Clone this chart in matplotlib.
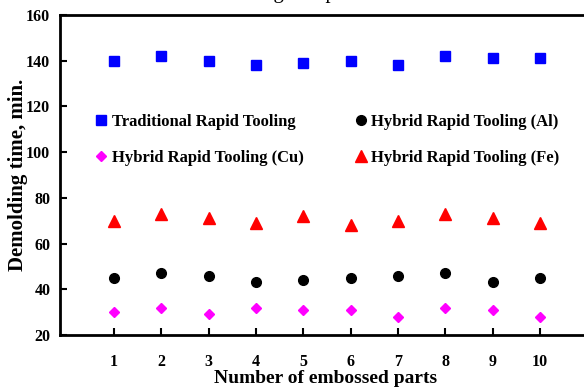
"""Demolding time per embossed part for four rapid tooling variants."""

import matplotlib
matplotlib.use("Agg")
import matplotlib.pyplot as plt

parts = [1, 2, 3, 4, 5, 6, 7, 8, 9, 10]
traditional = [140, 142, 140, 138, 139, 140, 138, 142, 141, 141]
hybrid_al = [45, 47, 46, 43, 44, 45, 46, 47, 43, 45]
hybrid_cu = [30, 32, 29, 32, 31, 31, 28, 32, 31, 28]
hybrid_fe = [70, 73, 71, 69, 72, 68, 70, 73, 71, 69]

y_ticks = [20, 40, 60, 80, 100, 120, 140, 160]

plt.rcParams["font.family"] = ["Liberation Serif", "DejaVu Serif"]
plt.rcParams["font.weight"] = "bold"


def main() -> None:
    fig = plt.figure(figsize=(5.84, 3.92), dpi=100)
    # axes runs past the right edge of the canvas, as in the cropped original
    ax = fig.add_axes([0.1027, 0.1454, 0.911, 0.8163])

    h_trad, = ax.plot(parts, traditional, ls="none", marker="s", ms=6.5, color="#0000ff",
                      label="Traditional Rapid Tooling")
    h_al, = ax.plot(parts, hybrid_al, ls="none", marker="o", ms=7, color="black",
                    label="Hybrid Rapid Tooling (Al)")
    h_cu, = ax.plot(parts, hybrid_cu, ls="none", marker="D", ms=5.5, color="#ff00ff",
                    label="Hybrid Rapid Tooling (Cu)")
    h_fe, = ax.plot(parts, hybrid_fe, ls="none", marker="^", ms=8, color="#ff0000",
                    label="Hybrid Rapid Tooling (Fe)")

    ax.set_xlim(-0.14, 11.1)
    ax.set_ylim(20, 160)
    ax.set_xticks(parts)
    ax.set_yticks(y_ticks)
    ax.tick_params(direction="in", length=5, width=1.5, labelsize=11.5, pad=7)
    ax.tick_params(axis="x", pad=14)
    for side in ("left", "bottom", "top"):
        ax.spines[side].set_linewidth(2)
    ax.spines["right"].set_visible(False)

    ax.set_xlabel("Number of embossed parts", fontsize=14, fontweight="bold", labelpad=0)
    ax.set_ylabel("Demolding time, min.", fontsize=15, fontweight="bold", labelpad=-1)

    ax.legend(handles=[h_trad, h_cu, h_al, h_fe], ncol=2, frameon=False,
              loc="upper left", bbox_to_anchor=(0.065, 0.69), borderpad=0,
              handlelength=0.8, handletextpad=0.25, columnspacing=3.0,
              labelspacing=1.2, fontsize=12, borderaxespad=0)

    # cropped title; only the descenders survive at the top edge
    fig.text(0.5, 1.004, "Demolding Temperature", ha="center", va="baseline",
             fontsize=15, fontweight="normal")

    fig.savefig("out.png", dpi=100, facecolor="white")
    plt.close(fig)


if __name__ == "__main__":
    main()
